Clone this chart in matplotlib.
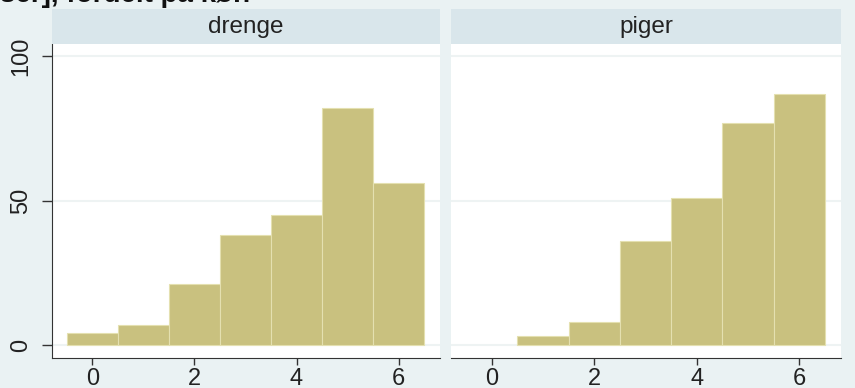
import matplotlib.pyplot as plt

plt.rcParams['font.family'] = ['Liberation Sans', 'DejaVu Sans']

bins = [0, 1, 2, 3, 4, 5, 6]
drenge = [4, 7, 21, 38, 45, 82, 56]
piger = [0, 3, 8, 36, 51, 77, 87]
panels = ['drenge', 'piger']
xticks = [0, 2, 4, 6]
yticks = [0, 50, 100]

outer_bg = '#EAF2F3'
strip_bg = '#D9E6EB'
bar_col = '#C9C17F'
bar_edge = '#E4E0B0'
grid_col = '#EEF3F3'

W, H = 855, 388
fig = plt.figure(figsize=(W / 100, H / 100), dpi=100, facecolor=outer_bg)

# title is cut off at the top edge in the original
fig.text(0.0, 1 - 2.5 / H, 'ser], fordelt på køn', fontsize=20, fontweight='bold',
         ha='left', va='baseline', color='#111111')

boxes = [(52, 440), (451, 841)]
top, bottom = 44, 358
for i, (name, vals) in enumerate(zip(panels, [drenge, piger])):
    x0, x1 = boxes[i]
    ax = fig.add_axes([x0 / W, (H - bottom) / H, (x1 - x0) / W, (bottom - top) / H])
    ax.set_facecolor('white')
    for y in yticks:
        ax.axhline(y, color=grid_col, lw=1.5, zorder=0)
    lws = [0.8 if v > 0 else 0 for v in vals]
    ax.bar(bins, vals, width=1, color=bar_col, edgecolor=bar_edge, linewidth=lws, zorder=2)
    ax.set_xlim(-0.79, 6.81)
    ax.set_ylim(-4.5, 104.2)
    ax.set_xticks(xticks)
    ax.tick_params(axis='x', length=5, width=1, color='#333333', labelsize=17,
                   pad=2, labelcolor='#222222')
    for s in ['top', 'right']:
        ax.spines[s].set_visible(False)
    ax.spines['bottom'].set_color('#333333')
    if i == 0:
        ax.set_yticks(yticks)
        ax.set_yticklabels([str(v) for v in yticks], rotation=90, va='center')
        ax.tick_params(axis='y', length=7, width=1, color='#333333', labelsize=17,
                       pad=7, labelcolor='#222222')
        ax.spines['left'].set_color('#333333')
    else:
        ax.set_yticks([])
        ax.spines['left'].set_visible(False)

    # strip header
    sax = fig.add_axes([x0 / W, (H - top) / H, (x1 - x0) / W, 35 / H])
    sax.set_facecolor(strip_bg)
    sax.set_xticks([])
    sax.set_yticks([])
    for s in sax.spines.values():
        s.set_visible(False)
    sax.text(0.5, 0.5, name, ha='center', va='center', fontsize=17.5, color='#222222',
             transform=sax.transAxes)

fig.savefig('out.png', dpi=100, facecolor=outer_bg)
